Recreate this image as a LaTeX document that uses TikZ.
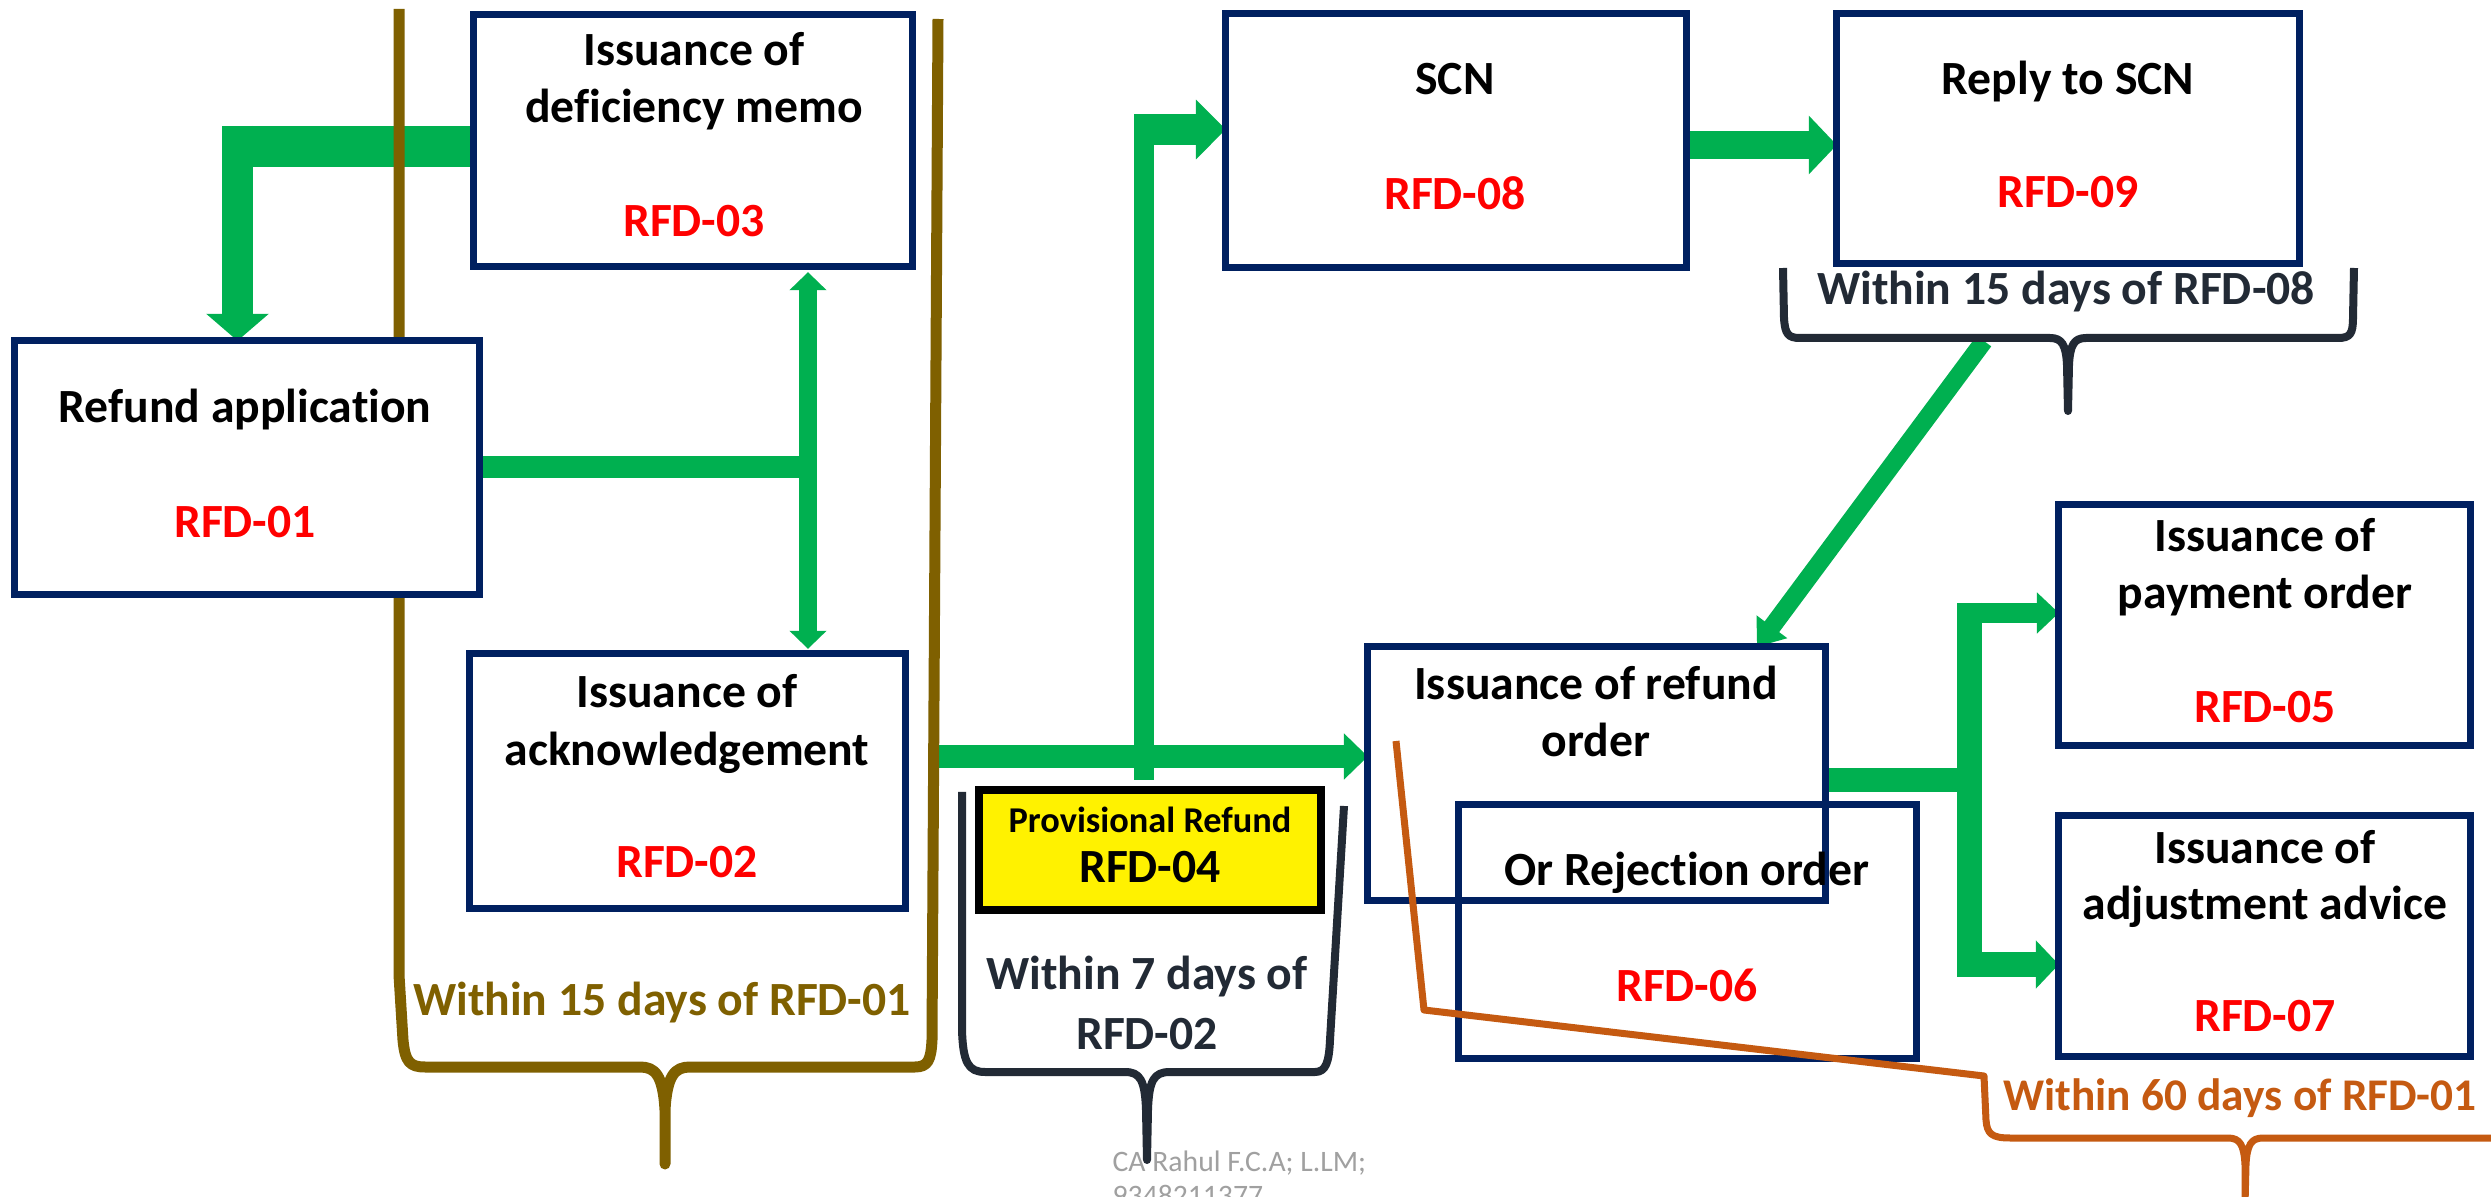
\documentclass[tikz,border=0pt]{standalone}
\usepackage{fontspec}
\setmainfont[Ligatures=NoCommon]{Carlito}
\usetikzlibrary{arrows.meta}
\definecolor{navy}{HTML}{002060}
\definecolor{grn}{HTML}{00B050}
\definecolor{brn}{HTML}{7F6000}
\definecolor{drk}{HTML}{222A35}
\definecolor{org}{HTML}{C55A11}
\definecolor{rfdred}{HTML}{FF0000}
\definecolor{wmgray}{HTML}{A0A0A0}
\begin{document}
\begin{tikzpicture}[x=0.3pt,y=-0.3pt,
  box/.style={draw=navy, line width=2.1pt, rectangle, inner sep=0pt},
  wbox/.style={box, fill=white},
  txt/.style={font=\fontsize{14.3}{17}\selectfont\bfseries, inner sep=0pt, anchor=base},
  code/.style={txt, text=rfdred},
  conn/.style={draw=grn, line join=miter},
]
\useasboundingbox (0,0) rectangle (2491,1197);
\clip (0,0) rectangle (2491,1197);
\fill[white] (0,0) rectangle (2491,1197);

% ---------- coordinates for connector bends ----------
\coordinate (h1) at (250,146.5);
\coordinate (v1) at (237.5,126);
\coordinate (vx) at (808,466);
\coordinate (a3) at (937,756.5);
\coordinate (v3) at (1144,780);
\coordinate (v3t) at (1144,114);
\coordinate (h3) at (1134,129.5);
\coordinate (d1) at (1984,341);
\coordinate (d2x) at (1757,0);
\coordinate (j) at (1969.5,780);
\coordinate (jt) at (1969.5,603);
\coordinate (jb) at (1969.5,977);
\coordinate (b1) at (1957,613);
\coordinate (b2) at (1957,964.5);

% ---------- box nodes (shapes drawn below) ----------
\path
  (693,140.5)   node[minimum width=131.1pt, minimum height=75pt, inner sep=0pt] (rfd03) {}
  (247,467.5)   node[minimum width=138.9pt, minimum height=75.6pt, inner sep=0pt] (rfd01) {}
  (687.5,781)   node[minimum width=130.2pt, minimum height=75.9pt, inner sep=0pt] (rfd02) {}
  (1456,140.5)  node[minimum width=137.7pt, minimum height=75.6pt, inner sep=0pt] (scn) {}
  (2068,138.5)  node[minimum width=138.3pt, minimum height=74.4pt, inner sep=0pt] (rfd09) {}
  (1596.5,773.5) node[minimum width=136.8pt, minimum height=75.6pt, inner sep=0pt] (order) {}
  (1687.5,931.5) node[minimum width=136.8pt, minimum height=75.6pt, inner sep=0pt] (rfd06) {}
  (2264.5,625)  node[minimum width=123pt, minimum height=71.7pt, inner sep=0pt] (rfd05) {}
  (2264.5,936)  node[minimum width=123pt, minimum height=71.7pt, inner sep=0pt] (rfd07) {}
  (1150,850)    node[minimum width=102.3pt, minimum height=35.7pt, inner sep=0pt] (rfd04) {};

% ---------- green connectors ----------
\draw[conn, line width=12.3pt] (rfd03.west |- h1) -- (h1);
\draw[conn, line width=9.3pt, -{Triangle[width=18.3pt,length=8.1pt]}] (v1) -- (v1 |- rfd01.north);
\draw[conn, line width=6.6pt] (rfd01.east) -- (rfd01.east -| vx);
\draw[conn, line width=5.4pt, shorten <=1.8pt, shorten >=1.5pt,
  {Triangle[width=10.8pt,length=5.4pt]}-{Triangle[width=10.8pt,length=5.4pt]}]
  (rfd03.south -| vx) -- (rfd02.north -| vx);
\draw[conn, line width=6.9pt, -{Triangle[width=13.5pt,length=7.2pt]}] (a3) -- (a3 -| order.west);
\draw[conn, line width=6pt] (v3) -- (v3t);
\draw[conn, line width=9.3pt, -{Triangle[width=17.4pt,length=9pt]}] (h3) -- (h3 -| scn.west);
\draw[conn, line width=8.4pt, -{Triangle[width=17.1pt,length=8.4pt]}] ([yshift=-1.35pt]scn.east) -- ([yshift=-1.35pt]scn.east -| rfd09.west);
\draw[conn, line width=5.4pt, -{Triangle[width=11pt,length=7.5pt]}] (d1) -- (d2x |- order.north);
\draw[conn, line width=7.2pt] (order.east |- j) -- (j);
\draw[conn, line width=7.5pt] (jt) -- (jb);
\draw[conn, line width=6pt, -{Triangle[width=12pt,length=6.6pt]}] (b1) -- (b1 -| rfd05.west);
\draw[conn, line width=7.5pt, -{Triangle[width=14.1pt,length=6.9pt]}] (b2) -- (b2 -| rfd07.west);

% ---------- brown bracket ----------
\draw[brn, line width=3.3pt, line join=round]
  (399,9) -- (399,975) -- (403,1040) .. controls (405,1062) and (410,1067) .. (425,1067)
  -- (640,1067) .. controls (655,1067) and (663,1075) .. (665,1110) -- (665,1164)
  -- (665,1110) .. controls (667,1075) and (675,1067) .. (690,1067)
  -- (915,1067) .. controls (928,1067) and (931,1060) .. (932,1040) -- (938,19);

% ---------- boxes ----------
\draw[wbox] (rfd03.south west) rectangle (rfd03.north east);
\draw[wbox] (rfd01.south west) rectangle (rfd01.north east);
\draw[wbox] (rfd02.south west) rectangle (rfd02.north east);
\draw[wbox] (scn.south west) rectangle (scn.north east);
\draw[wbox] (rfd09.south west) rectangle (rfd09.north east);
\draw[wbox] (rfd05.south west) rectangle (rfd05.north east);
\draw[wbox] (rfd07.south west) rectangle (rfd07.north east);
\draw[box] (order.south west) rectangle (order.north east);
\draw[box] (rfd06.south west) rectangle (rfd06.north east);
\draw[draw=black, fill=yellow, line width=2.4pt] (rfd04.south west) rectangle (rfd04.north east);

% ---------- dark brackets ----------
\draw[drk, line width=2.4pt, line join=round]
  (962,792) -- (962,1030) .. controls (963,1062) and (968,1072) .. (985,1072)
  -- (1125,1072) .. controls (1140,1072) and (1145,1080) .. (1146,1110) -- (1147,1160)
  -- (1148,1110) .. controls (1149,1080) and (1154,1072) .. (1170,1072)
  -- (1315,1072) .. controls (1326,1072) and (1329,1062) .. (1330,1040) -- (1344,806);
\draw[drk, line width=2.4pt, line join=round]
  (1783,268) -- (1784,318) .. controls (1785,334) and (1788,338) .. (1800,338)
  -- (2050,338) .. controls (2062,338) and (2066,345) .. (2067,365) -- (2068,411)
  -- (2069,365) .. controls (2070,345) and (2074,338) .. (2086,338)
  -- (2338,338) .. controls (2350,338) and (2353,334) .. (2353,318) -- (2354,268);

% ---------- orange bracket ----------
\draw[org, line width=2.1pt, line join=round]
  (1396,741) -- (1424,1010) -- (1984,1076) -- (1986,1120)
  .. controls (1987,1134) and (1992,1138) .. (2010,1138)
  -- (2228,1138) .. controls (2240,1138) and (2244,1145) .. (2245,1165) -- (2245,1205)
  -- (2246,1165) .. controls (2247,1145) and (2251,1138) .. (2263,1138) -- (2500,1138);

% ---------- texts ----------
\node[txt] (t03a) at (694,66) {Issuance of};
\node[txt] (t03b) at (694,123) {deficiency memo};
\node[code] (t03c) at (694,237) {RFD-03};
\node[txt] (t01a) at (245,423) {Refund application};
\node[code] (t01b) at (245,538) {RFD-01};
\node[txt] (t02a) at (687,708) {Issuance of};
\node[txt] (t02b) at (687,766) {acknowledgement};
\node[code] (t02c) at (687,878) {RFD-02};
\node[txt] (t08a) at (1455,95) {SCN};
\node[code] (t08b) at (1455,210) {RFD-08};
\node[txt] (t09a) at (2068,95) {Reply to SCN};
\node[code] (t09b) at (2068,208) {RFD-09};
\node[txt, text=drk] (w08) at (2066,305) {Within 15 days of RFD-08};
\node[txt] (tor1) at (1596,700) {Issuance of refund};
\node[txt] (tor2) at (1596,757) {order};
\node[txt] (t06a) at (1687,886) {Or Rejection order};
\node[code] (t06b) at (1687,1001) {RFD-06};
\node[txt] (t05a) at (2265,552) {Issuance of};
\node[txt] (t05b) at (2265,609) {payment order};
\node[code] (t05c) at (2265,723) {RFD-05};
\node[txt] (t07a) at (2265,863) {Issuance of};
\node[txt] (t07b) at (2265,920) {adjustment advice};
\node[code] (t07c) at (2265,1032) {RFD-07};
\node[txt, text=org, font=\fontsize{13.6}{16}\selectfont\bfseries] (w60) at (2240,1110) {Within 60 days of RFD-01};
\node[txt, font=\fontsize{10.9}{13}\selectfont\bfseries] (t04a) at (1150,833) {Provisional Refund};
\node[txt] (t04b) at (1150,883) {RFD-04};
\node[txt, text=drk] (w7a) at (1147,990) {Within 7 days of};
\node[txt, text=drk] (w7b) at (1147,1049) {RFD-02};
\node[txt, text=brn] (w15) at (662,1016) {Within 15 days of RFD-01};
\node[inner sep=0pt, anchor=base west, text=wmgray, font=\fontsize{8.9}{10}\selectfont] (wm1) at (1112,1171) {CA Rahul F.C.A; L.LM;};
\node[inner sep=0pt, anchor=base west, text=wmgray, font=\fontsize{8.9}{10}\selectfont] (wm2) at (1112,1205) {9348211377};
\end{tikzpicture}
\end{document}
